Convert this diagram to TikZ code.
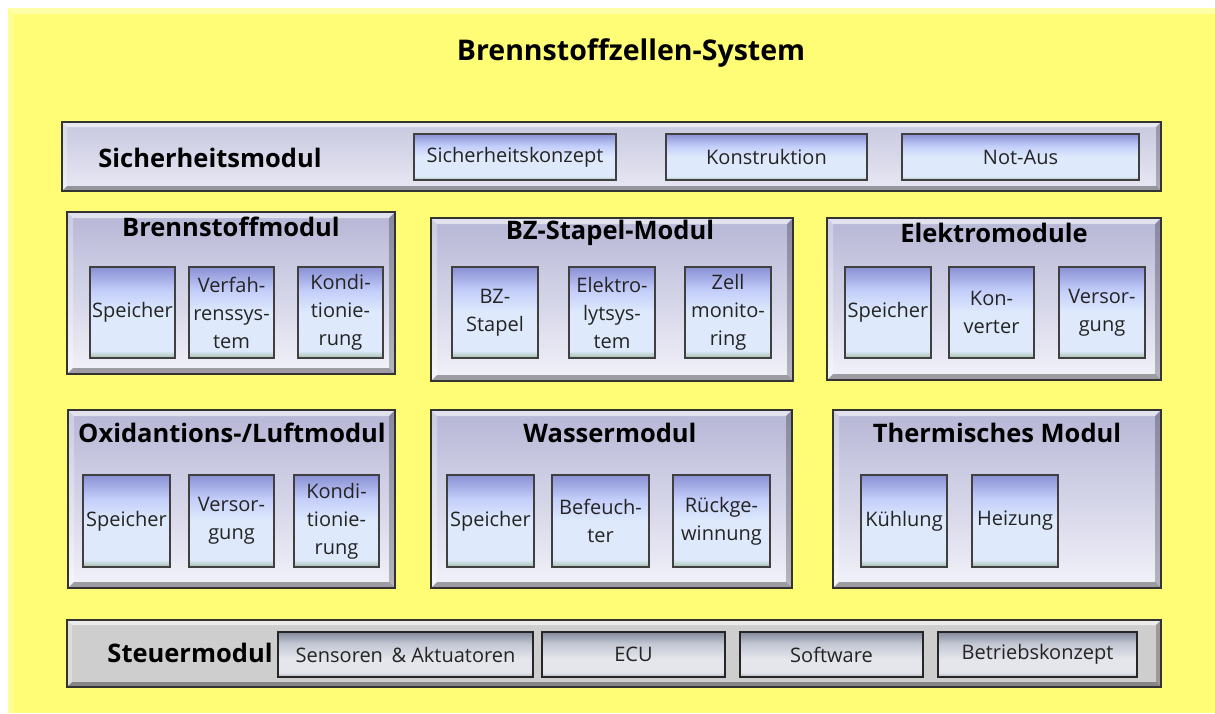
\documentclass[tikz,border=0pt]{standalone}
\usepackage{fontspec}
\setmainfont{Open Sans}
\usetikzlibrary{calc}

\definecolor{bgyellow}{RGB}{255,253,118}
\definecolor{bglight}{RGB}{255,255,170}
\definecolor{modtop}{RGB}{182,182,214}
\definecolor{modbot}{RGB}{242,242,250}
\definecolor{bartop}{RGB}{200,200,224}
\definecolor{barbot}{RGB}{232,232,244}
\definecolor{cellG}{RGB}{164,190,170}
\definecolor{cellL}{RGB}{222,234,252}
\definecolor{cellM}{RGB}{196,206,250}
\definecolor{cellT}{RGB}{138,144,212}
\definecolor{ctrlfill}{RGB}{206,206,206}
\definecolor{ctlB}{RGB}{176,180,192}
\definecolor{ctlL}{RGB}{228,230,236}
\definecolor{ctlM}{RGB}{196,200,212}
\definecolor{ctlT}{RGB}{132,138,156}
\definecolor{labelgray}{RGB}{36,36,36}

% blue cell: periwinkle top, pale blue middle, greenish foot
\pgfdeclareverticalshading{cellshade}{100bp}{%
  color(0bp)=(cellG); color(25bp)=(cellG); color(29bp)=(cellL);
  color(50bp)=(cellL); color(62bp)=(cellM); color(75bp)=(cellT);
  color(100bp)=(cellT)}
% grey control cell
\pgfdeclareverticalshading{ctlshade}{100bp}{%
  color(0bp)=(ctlB); color(25bp)=(ctlB); color(30bp)=(ctlL);
  color(45bp)=(ctlL); color(62bp)=(ctlM); color(75bp)=(ctlT);
  color(100bp)=(ctlT)}

\tikzset{
  modbox/.style={inner sep=0pt, outer sep=0pt, top color=modtop, bottom color=modbot},
  barbox/.style={inner sep=0pt, outer sep=0pt, top color=bartop, bottom color=barbot},
  ctrlbox/.style={inner sep=0pt, outer sep=0pt, fill=ctrlfill},
  cell/.style={inner sep=0pt, outer sep=0pt, shading=cellshade, draw=black!75, line width=1.3pt},
  ctlcell/.style={inner sep=0pt, outer sep=0pt, shading=ctlshade, draw=black!85, line width=1.3pt},
  celltext/.style={align=center, text=labelgray, inner sep=0pt,
    font=\fontsize{20}{28}\selectfont},
  modtitle/.style={font=\fontsize{25.5}{28}\selectfont\bfseries, text=black, inner sep=0pt},
  maintitle/.style={font=\fontsize{28.5}{32}\selectfont\bfseries, text=black, inner sep=0pt},
}

% bevelled panel: name, x1, y1, x2, y2, style, bevel width
\newcommand{\panel}[7]{%
  \node[#6, anchor=north west, minimum width=#4pt-#2pt, minimum height=#5pt-#3pt] (#1) at (#2,#3) {};
  \fill[white,opacity=.6] (#1.north west) -- (#1.north east) -- ($(#1.north east)+(-#7pt,-#7pt)$) -- ($(#1.north west)+(#7pt,-#7pt)$) -- cycle;
  \fill[white,opacity=.3] (#1.north west) -- ($(#1.north west)+(#7pt,-#7pt)$) -- ($(#1.south west)+(#7pt,#7pt)$) -- (#1.south west) -- cycle;
  \fill[black,opacity=.25] (#1.north east) -- (#1.south east) -- ($(#1.south east)+(-#7pt,#7pt)$) -- ($(#1.north east)+(-#7pt,-#7pt)$) -- cycle;
  \fill[black,opacity=.35] (#1.south west) -- (#1.south east) -- ($(#1.south east)+(-#7pt,#7pt)$) -- ($(#1.south west)+(#7pt,#7pt)$) -- cycle;
  \draw[line width=1.8pt, black!80] (#1.north west) rectangle (#1.south east);
}

% cell: name, x1, y1, x2, y2, style, text
\newcommand{\cellbox}[7]{%
  \node[#6, anchor=north west, minimum width=#4pt-#2pt, minimum height=#5pt-#3pt] (#1) at (#2,#3) {};
  \node[celltext] at (#1.center) {#7};
}

\begin{document}
\begin{tikzpicture}[x=1pt, y=-1pt]
\useasboundingbox (0,0) rectangle (1215,713);
\fill[white] (0,0) rectangle (1215,713);

% yellow ground with a lit upper-left rim
\node[fill=bgyellow, inner sep=0pt, outer sep=0pt, anchor=north west,
      minimum width=1207pt, minimum height=705pt] (ground) at (8,8) {};
\fill[bglight] (ground.north west) -- (ground.north east) -- ++(0,-6pt) -- ($(ground.north west)+(6pt,-6pt)$) -- cycle;
\fill[bglight!60!bgyellow] (ground.north west) -- ($(ground.north west)+(6pt,-6pt)$) -- ($(ground.south west)+(6pt,0)$) -- (ground.south west) -- cycle;

\node[maintitle] (title) at (631,53) {Brennstoffzellen-System};

% safety module
\panel{safety}{62}{122}{1161}{191}{barbox}{5}
\node[modtitle] (safetyT) at (210,158) {Sicherheitsmodul};
\cellbox{sk}{414}{134}{616}{180}{cell}{Sicherheitskonzept}
\cellbox{ko}{666}{134}{867}{180}{cell}{Konstruktion}
\cellbox{na}{902}{134}{1139}{180}{cell}{Not-Aus}

% fuel module
\panel{fuel}{67}{212}{395}{374}{modbox}{6}
\node[modtitle] (fuelT) at (231,227) {Brennstoffmodul};
\cellbox{fuelA}{90}{267}{175}{358}{cell}{Speicher}
\cellbox{fuelB}{189}{267}{274}{358}{cell}{Verfah-\\renssys-\\tem}
\cellbox{fuelC}{298}{267}{383}{358}{cell}{Kondi-\\tionie-\\rung}

% stack module
\panel{stack}{431}{218}{793}{381}{modbox}{6}
\node[modtitle] (stackT) at (610,233) {BZ-Stapel-Modul};
\cellbox{stackA}{452}{267}{538}{358}{cell}{BZ-\\Stapel}
\cellbox{stackB}{569}{267}{655}{358}{cell}{Elektro-\\lytsys-\\tem}
\cellbox{stackC}{685}{267}{771}{358}{cell}{Zell\\monito-\\ring}

% electric modules
\panel{elec}{827}{218}{1161}{380}{modbox}{6}
\node[modtitle] (elecT) at (994,233) {Elektromodule};
\cellbox{elecA}{845}{267}{931}{358}{cell}{Speicher}
\cellbox{elecB}{949}{267}{1034}{358}{cell}{Kon-\\verter}
\cellbox{elecC}{1059}{267}{1145}{358}{cell}{Versor-\\gung}

% oxidant / air module
\panel{air}{68}{410}{395}{588}{modbox}{6}
\node[modtitle] (airT) at (232,433) {Oxidantions-/Luftmodul};
\cellbox{airA}{83}{475}{170}{567}{cell}{Speicher}
\cellbox{airB}{189}{475}{274}{567}{cell}{Versor-\\gung}
\cellbox{airC}{294}{475}{379}{567}{cell}{Kondi-\\tionie-\\rung}

% water module
\panel{water}{431}{410}{792}{588}{modbox}{6}
\node[modtitle] (waterT) at (610,433) {Wassermodul};
\cellbox{waterA}{447}{475}{534}{567}{cell}{Speicher}
\cellbox{waterB}{552}{475}{649}{567}{cell}{Befeuch-\\ter}
\cellbox{waterC}{673}{475}{770}{567}{cell}{Rückge-\\winnung}

% thermal module
\panel{therm}{833}{410}{1161}{588}{modbox}{6}
\node[modtitle] (thermT) at (997,433) {Thermisches Modul};
\cellbox{thermA}{861}{475}{947}{567}{cell}{Kühlung}
\cellbox{thermB}{972}{475}{1058}{567}{cell}{Heizung}

% control module
\panel{ctrl}{67}{620}{1161}{687}{ctrlbox}{5}
\node[modtitle] (ctrlT) at (190,653) {Steuermodul};
\cellbox{ctrlA}{278}{632}{533}{677}{ctlcell}{Sensoren \,\& Aktuatoren}
\cellbox{ctrlB}{542}{632}{725}{677}{ctlcell}{ECU}
\cellbox{ctrlC}{740}{632}{923}{677}{ctlcell}{Software}
\cellbox{ctrlD}{938}{632}{1137}{677}{ctlcell}{Betriebskonzept}
\end{tikzpicture}
\end{document}
